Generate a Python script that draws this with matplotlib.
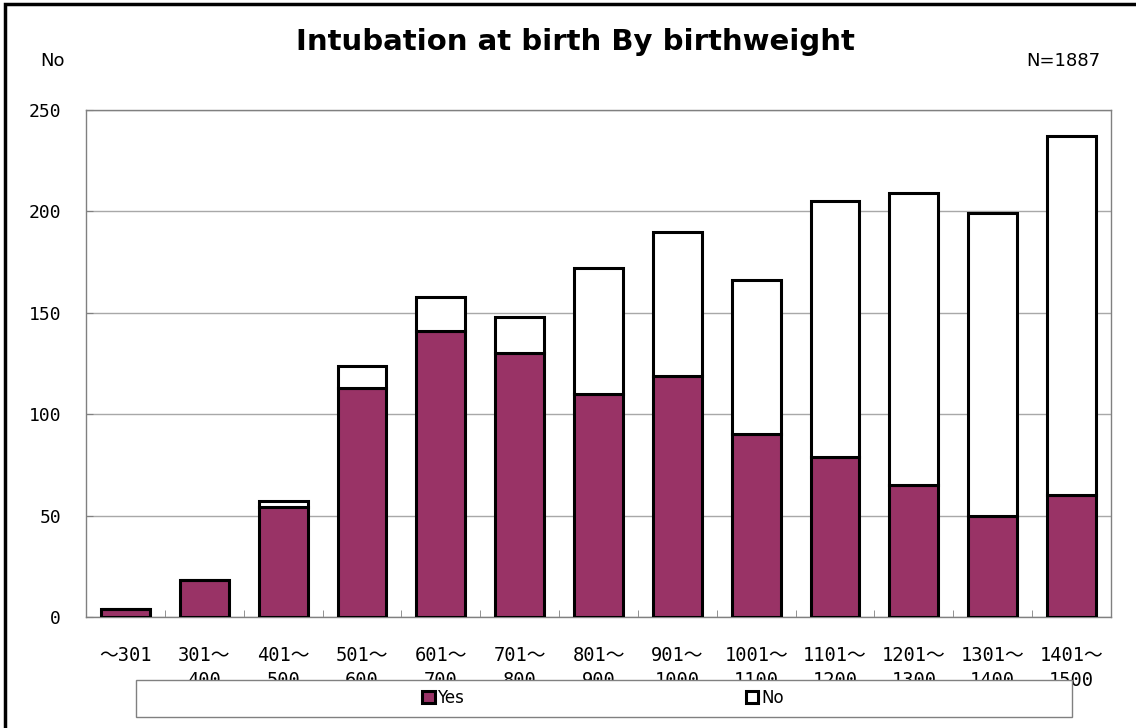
import matplotlib.pyplot as plt
import numpy as np
from matplotlib.patches import Rectangle

categories = ["～301", "301～\n400", "401～\n500", "501～\n600", "601～\n700", "701～\n800",
              "801～\n900", "901～\n1000", "1001～\n1100", "1101～\n1200", "1201～\n1300",
              "1301～\n1400", "1401～\n1500"]
yes_counts = [4, 18, 54, 113, 141, 130, 110, 119, 90, 79, 65, 50, 60]
no_counts = [0, 0, 3, 11, 17, 18, 62, 71, 76, 126, 144, 149, 177]
yticks = [0, 50, 100, 150, 200, 250]

tickFont = ['DejaVu Sans Mono', 'Noto Sans CJK JP']
labelFont = ['DejaVu Sans']

fig = plt.figure(figsize=(11.36, 7.28), dpi=100)
ax = fig.add_axes([86 / 1136, 1 - 617 / 728, 1025 / 1136, 507 / 728])

x = np.arange(len(categories))
ax.bar(x, yes_counts, width=0.62, color='#993366', edgecolor='black', linewidth=2.2, label='Yes', zorder=3)
ax.bar(x, no_counts, width=0.62, bottom=yes_counts, color='white', edgecolor='black', linewidth=2.2,
       label='No', zorder=3)

ax.set_xlim(-0.5, len(categories) - 0.5)
ax.set_ylim(0, 250)
ax.set_yticks(yticks)
ax.set_yticklabels([str(v) for v in yticks], family=tickFont, fontsize=13)
ax.yaxis.grid(True, color='#a8a8a8', linewidth=1, zorder=0)
ax.tick_params(axis='y', direction='in', length=5, color='#808080', pad=18)

# category labels sit between boundary ticks
ax.set_xticks(x)
ax.set_xticklabels(categories, family=tickFont, fontsize=13.5, linespacing=1.4, va='top')
ax.tick_params(axis='x', length=0, pad=21)
ax.set_xticks(np.arange(len(categories) + 1) - 0.5, minor=True)
ax.tick_params(axis='x', which='minor', direction='in', length=5, color='#808080')

for s in ax.spines.values():
	s.set_color('#808080')
	s.set_linewidth(1)

fig.text(575 / 1136, 1 - 42 / 728, "Intubation at birth By birthweight", ha='center', va='center',
         fontsize=21, fontweight='bold', family=labelFont)
fig.text(53 / 1136, 1 - 61 / 728, "No", ha='center', va='center', fontsize=13, family=labelFont)
fig.text(1100 / 1136, 1 - 61 / 728, "N=1887", ha='right', va='center', fontsize=13, family=labelFont)

# legend box
fig.patches.append(Rectangle((136 / 1136, 1 - 717 / 728), 936 / 1136, 37 / 728, transform=fig.transFigure,
                             facecolor='white', edgecolor='#808080', linewidth=1, zorder=4))
fig.legend(loc='center', bbox_to_anchor=(603 / 1136, 1 - 698 / 728), ncol=2, frameon=False,
           handlelength=0.75, handleheight=0.75, handletextpad=0.15, columnspacing=16.9,
           prop={'family': labelFont, 'size': 12})

# outer frame
fig.patches.append(Rectangle((5 / 1136, -0.1), 1.2, 1 - 4 / 728 + 0.1, transform=fig.transFigure,
                             facecolor='none', edgecolor='black', linewidth=2.5, clip_on=False, zorder=6))

plt.savefig("out.png", dpi=100)
